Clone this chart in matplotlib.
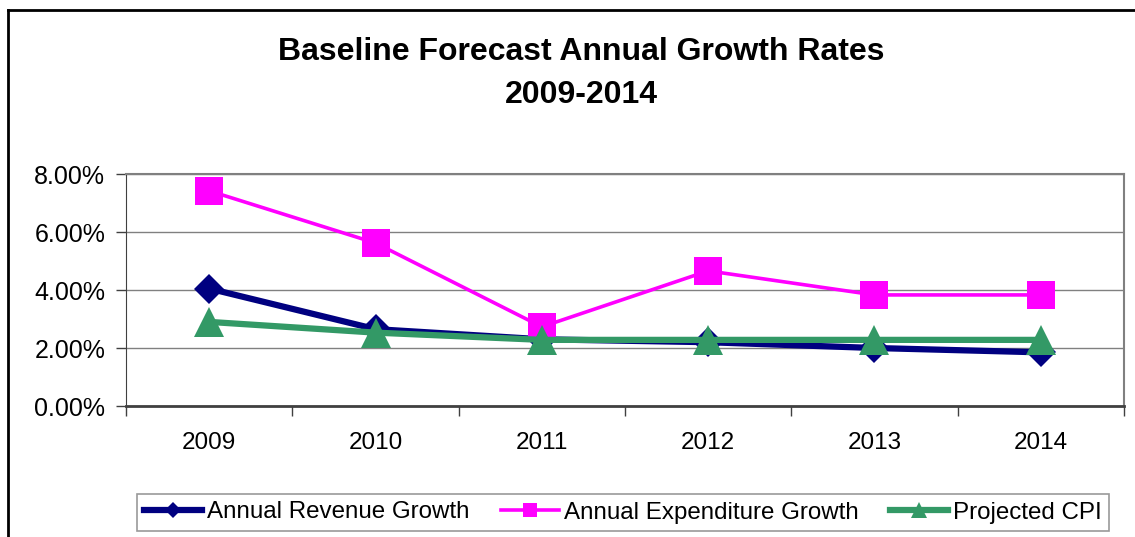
import matplotlib
matplotlib.use("Agg")
import matplotlib.pyplot as plt
from matplotlib.lines import Line2D
from matplotlib.ticker import FuncFormatter, MultipleLocator

years = ["2009", "2010", "2011", "2012", "2013", "2014"]
revenue_growth = [4.05, 2.65, 2.30, 2.20, 2.00, 1.85]
expenditure_growth = [7.42, 5.62, 2.73, 4.66, 3.83, 3.83]
projected_cpi = [2.90, 2.53, 2.28, 2.28, 2.28, 2.28]

plt.rcParams["font.family"] = ["Liberation Sans", "DejaVu Sans"]

fig = plt.figure(figsize=(11.35, 5.37), dpi=100)
ax = fig.add_axes([126 / 1135, 1 - 406 / 537, (1124 - 126) / 1135, (406 - 174) / 537])

x = list(range(len(years)))
navy = "#000080"
magenta = "#FF00FF"
green = "#339966"

ax.plot(x, revenue_growth, color=navy, lw=4.5, marker="D", ms=15,
        markeredgewidth=0, label="Annual Revenue Growth", zorder=3)
ax.plot(x, expenditure_growth, color=magenta, lw=2.6, marker="s", ms=19.5,
        markeredgewidth=0, label="Annual Expenditure Growth", zorder=4)
ax.plot(x, projected_cpi, color=green, lw=4.5, marker="^", ms=21.5,
        markeredgewidth=0, label="Projected CPI", zorder=5)

ax.set_xlim(-0.5, len(years) - 0.5)
ax.set_ylim(0, 8)
ax.yaxis.set_major_locator(MultipleLocator(2))
ax.yaxis.set_major_formatter(FuncFormatter(lambda v, p: f"{v:.2f}%"))
ax.set_xticks(x)
ax.set_xticklabels(years)
ax.set_xticks([i + 0.5 for i in range(-1, len(years))], minor=True)
ax.tick_params(axis="x", which="major", length=0, pad=19, labelsize=17.5)
ax.tick_params(axis="x", which="minor", length=7, width=1, color="#404040", direction="out")
ax.tick_params(axis="y", length=7, width=1, color="#404040", direction="out", pad=8, labelsize=18)

ax.grid(axis="y", color="#808080", lw=1)
ax.set_axisbelow(True)
for side in ["top", "right"]:
    ax.spines[side].set_color("#808080")
    ax.spines[side].set_linewidth(1.5)
ax.spines["left"].set_color("#404040")
ax.spines["bottom"].set_color("#404040")
ax.spines["bottom"].set_linewidth(2)

fig.text(0.512, 1 - 60 / 537, "Baseline Forecast Annual Growth Rates",
         ha="center", va="baseline", fontsize=23, fontweight="bold")
fig.text(0.512, 1 - 103 / 537, "2009-2014",
         ha="center", va="baseline", fontsize=23, fontweight="bold")

leg = fig.legend(loc="center", bbox_to_anchor=(623 / 1135, 1 - 512.5 / 537),
                 ncol=3, fontsize=17.4, frameon=True, fancybox=False,
                 edgecolor="#808080", handlelength=2.4, handletextpad=0.2,
                 columnspacing=1.3, markerscale=0.55, borderpad=0.3)
leg.get_frame().set_linewidth(1.2)

# outer chart border
fig.add_artist(Line2D([8 / 1135, 8 / 1135], [0, 1 - 10 / 537], transform=fig.transFigure,
                      color="black", lw=2))
fig.add_artist(Line2D([8 / 1135, 1], [1 - 10 / 537, 1 - 10 / 537], transform=fig.transFigure,
                      color="black", lw=2))

fig.savefig("out.png", dpi=100)
